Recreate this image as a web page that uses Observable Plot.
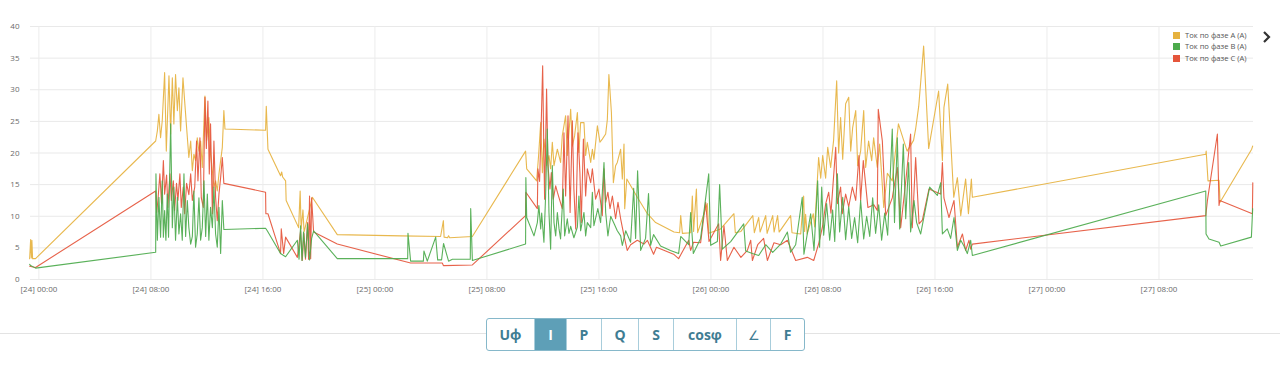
<!DOCTYPE html>
<html>
<head>
<meta charset="utf-8">
<script src="https://cdn.jsdelivr.net/npm/d3@7"></script>
<script src="https://cdn.jsdelivr.net/npm/@observablehq/plot@0.6"></script>
<style>
  html, body { margin: 0; padding: 0; background: #fff; width: 1280px; height: 365px; overflow: hidden; font-family: "Open Sans", sans-serif; }
  #wrap { position: relative; width: 1280px; height: 365px; }
  #chart { position: absolute; left: 0; top: 0; }
  #legend { position: absolute; left: 1173px; top: 30px; font-size: 7.6px; color: #555; line-height: 11.3px; }
  #legend .item { display: flex; align-items: center; white-space: nowrap; }
  #legend .sw { width: 7px; height: 7px; margin-right: 5px; display: inline-block; }
  #chev { position: absolute; left: 1261px; top: 30px; }
  #rule { position: absolute; left: 0; top: 333px; width: 1280px; height: 1px; background: #e3e3e3; }
  #btns { position: absolute; left: 486px; top: 318px; height: 31px; display: flex; border: 1px solid #86b8ca; border-radius: 3px; background: #fff; overflow: hidden; }
  #btns div { display: flex; align-items: center; justify-content: center; font-weight: 700; font-size: 14px; color: #3f7d93; border-left: 1px solid #a8cddb; box-sizing: border-box; }
  #btns div:first-child { border-left: none; }
  #btns div.active { background: #5e9fb7; color: #fff; }
  #btns div.thin { font-weight: 400; font-size: 13px; }
</style>
</head>
<body>
<div id="wrap">
  <div id="chart"></div>
  <div id="legend"></div>
  <svg id="chev" width="12" height="14"><polyline points="3,2 8,7 3,12" fill="none" stroke="#333" stroke-width="2.2"/></svg>
  <div id="rule"></div>
  <div id="btns"></div>
</div>
<script>
// ---- data: hours from [24] 00:00, current in A ----
const seriesNames = ["Ток по фазе A (A)", "Ток по фазе B (A)", "Ток по фазе C (A)"];
const seriesColors = ["#e6b23f", "#4caa4c", "#e5553b"];
const yTicks = [0, 5, 10, 15, 20, 25, 30, 35, 40];
const tickHours = [0, 8, 16, 24, 32, 40, 48, 56, 64, 72, 80];
const buttonLabels = ["Uф", "I", "P", "Q", "S", "cosφ", "∠", "F"];
const buttonWidths = [47, 32, 35, 37, 35, 63, 34, 34];

const hoursA = [-0.66,-0.59,-0.54,-0.5,-0.45,-0.24,8.34,8.46,8.57,8.69,8.81,8.98,9.1,9.29,9.41,9.53,9.64,9.76,9.89,10.0,10.12,10.29,10.41,10.55,10.71,10.84,10.96,11.07,11.19,11.31,11.43,11.55,11.67,11.79,11.86,11.98,12.14,12.26,12.39,12.5,12.62,12.74,12.86,12.98,13.1,13.21,13.29,
16.19,16.24,16.36,17.26,17.34,17.41,17.62,17.66,18.55,18.66,18.73,18.86,18.94,19.53,21.31,25.84,28.69,28.89,28.94,29.19,29.26,29.34,30.96,34.76,34.84,35.55,
35.69,35.84,35.96,36.07,36.26,36.43,36.55,36.67,36.79,37.03,37.26,37.38,37.62,37.74,37.98,38.1,38.26,38.46,38.57,38.69,38.93,39.05,39.17,39.41,39.53,39.64,39.89,40.07,40.24,40.48,40.6,40.71,40.89,41.03,41.19,41.31,41.55,41.67,41.79,41.84,41.99,42.74,43.46,44.05,45.36,
45.76,45.84,45.96,46.55,46.67,46.76,46.96,47.05,47.74,47.84,48.69,49.64,49.74,50.14,50.99,51.1,51.41,51.51,51.91,52.01,52.41,52.51,52.76,52.87,53.69,53.79,54.41,54.62,54.69,54.76,54.87,55.31,55.41,
55.69,55.84,55.98,56.19,56.34,56.55,56.76,56.98,57.12,57.26,57.41,57.62,57.84,57.98,58.12,58.34,58.48,58.69,58.91,59.05,59.26,59.48,59.62,59.88,60.05,60.34,60.6,60.95,61.39,62.01,62.47,62.62,62.84,63.19,63.55,64.26,64.53,64.64,64.91,65.34,65.6,65.84,66.19,66.39,66.6,66.67,
83.34,83.37,83.5,84.29,84.36,86.62,86.69];
const ampsA = [3.3,6.3,3.4,6.2,3.3,3.3,21.9,23.5,26.1,22.4,25.1,32.7,20.3,32.2,23.0,31.9,24.6,32.4,26.7,30.3,23.5,31.9,28.2,24.0,19.3,21.9,17.2,19.8,18.8,22.4,20.3,21.9,17.7,25.1,29.0,22.0,25.6,19.8,17.2,14.6,15.6,14.0,16.7,18.8,20.9,26.7,23.8,
23.6,27.4,20.6,16.4,17.0,16.2,15.6,12.5,8.2,14.0,8.0,11.0,7.5,13.0,7.1,6.9,6.8,9.3,6.7,6.6,6.9,6.6,6.8,20.3,17.5,15.6,
19.6,24.8,16.9,22.2,18.0,19.6,17.5,21.7,18.0,20.6,18.5,22.7,25.9,19.6,26.9,21.1,22.7,26.4,20.1,24.8,24.8,19.6,21.7,18.5,20.6,19.0,24.3,21.7,22.2,23.0,25.3,32.4,26.4,15.3,18.0,18.5,20.6,15.9,21.4,11.2,15.9,13.0,10.4,9.0,7.5,
7.4,10.1,7.3,7.4,13.2,7.6,14.3,7.4,12.0,7.3,8.0,10.4,7.4,7.6,10.1,7.4,9.8,7.5,10.1,7.3,10.1,7.5,10.1,7.5,10.1,7.4,7.2,13.2,7.6,10.3,7.2,10.4,8.3,
19.3,16.0,19.6,16.0,20.9,17.7,22.0,31.4,20.0,25.6,19.0,27.8,28.8,20.3,24.0,26.7,18.0,20.3,26.7,17.7,21.9,18.8,22.4,17.7,21.4,11.4,16.8,15.6,24.6,20.3,22.0,23.8,27.4,36.9,20.7,29.8,18.8,27.2,30.9,13.0,16.1,10.1,15.9,10.4,15.9,13.0,
19.8,20.3,15.6,15.7,12.2,20.6,21.1];

const hoursB = [-0.66,-0.59,-0.24,8.34,8.36,8.46,8.57,8.69,8.81,8.89,8.98,9.07,9.17,9.26,9.41,9.53,9.64,9.76,9.89,10.0,10.12,10.24,10.36,10.48,10.6,10.71,10.84,10.96,11.07,11.19,11.31,11.43,11.55,11.67,11.79,11.91,12.03,12.14,12.26,12.39,12.5,12.62,12.74,12.86,12.98,13.1,13.21,
16.19,16.31,17.26,17.62,18.46,18.58,18.69,18.79,18.9,19.04,19.19,19.33,19.48,19.62,21.31,26.34,26.36,26.55,27.46,27.5,27.74,28.34,28.48,28.76,28.9,29.26,29.53,30.81,30.84,30.96,34.76,34.78,34.84,35.36,
35.6,35.71,35.84,35.91,36.07,36.19,36.31,36.43,36.55,36.67,36.79,36.91,37.03,37.15,37.26,37.45,37.55,37.74,37.86,37.98,38.21,38.46,38.57,38.69,38.93,39.05,39.17,39.41,39.53,39.64,39.92,40.12,40.36,40.48,40.64,40.84,41.07,41.31,41.55,41.67,41.91,
42.26,42.48,42.62,42.76,42.98,43.33,43.54,43.69,43.9,44.4,45.11,45.69,45.84,46.41,46.55,46.74,47.26,47.84,47.98,48.46,48.62,48.81,49.41,50.34,50.48,50.96,51.41,51.91,52.41,52.98,53.46,53.69,54.05,54.52,54.64,55.12,55.36,
55.62,55.76,55.91,56.05,56.26,56.48,56.69,56.84,57.03,57.19,57.41,57.62,57.84,58.05,58.26,58.48,58.69,58.91,59.12,59.34,59.55,59.76,59.98,60.19,60.41,60.62,60.95,61.11,61.31,61.48,61.74,61.91,62.12,62.26,62.5,62.69,62.98,63.62,64.17,64.41,64.53,64.88,65.12,65.36,65.6,65.84,66.07,66.31,66.55,66.67,
83.34,83.36,83.57,84.29,84.41,86.6,86.69];
const ampsB = [2.4,2.2,1.8,4.3,16.7,6.2,13.0,6.7,15.6,6.7,10.9,6.2,13.5,6.7,24.6,8.2,14.6,6.2,13.0,7.2,10.4,6.2,16.7,6.8,12.5,8.2,5.6,6.8,14.0,5.1,7.2,12.9,6.2,8.2,15.6,6.8,13.5,6.2,11.4,8.2,14.6,7.2,5.1,11.4,4.1,12.5,7.9,
8.1,7.7,4.1,3.6,6.2,3.2,8.5,3.0,7.5,3.5,8.8,3.1,6.5,7.7,3.3,3.3,7.3,2.9,2.9,4.5,2.9,6.7,3.1,3.1,5.7,2.9,3.2,3.2,11.2,3.0,5.6,16.1,9.8,6.9,
9.0,11.7,8.0,10.5,5.9,13.2,23.8,10.6,4.8,18.0,9.0,6.9,10.6,8.0,6.4,14.3,6.9,9.6,7.3,8.4,6.6,8.3,13.2,7.7,10.6,6.9,9.0,8.2,13.8,8.5,11.2,9.0,18.5,10.6,6.9,10.0,8.9,7.7,6.9,5.4,7.7,
5.9,14.4,6.5,17.2,4.6,6.5,13.6,5.4,7.1,5.3,4.6,4.1,6.8,5.5,10.6,4.1,6.5,16.7,5.4,6.0,15.0,4.8,6.0,8.8,4.5,4.1,3.8,5.5,4.3,5.6,7.5,4.3,5.5,13.0,4.0,10.4,4.6,
15.6,5.1,14.6,7.0,12.0,6.2,11.0,6.0,16.7,7.5,13.0,6.3,11.5,6.5,9.8,5.8,12.5,6.4,10.0,6.8,12.9,7.3,11.8,6.2,10.5,7.0,23.8,9.0,22.4,8.0,21.4,9.6,18.5,7.5,12.5,9.0,7.2,14.6,13.3,15.3,7.2,8.0,6.5,9.8,4.6,6.2,5.3,4.1,6.2,3.8,
14.0,7.2,6.4,5.9,5.3,6.7,11.2];

const hoursC = [-0.66,-0.24,8.34,8.41,8.5,8.64,8.76,8.89,8.98,9.12,9.21,9.36,9.46,9.6,9.69,9.83,9.93,10.07,10.17,10.31,10.41,10.55,10.71,10.84,10.96,11.13,11.26,11.36,11.5,11.6,11.74,11.86,11.96,12.07,12.17,12.26,12.39,12.5,12.62,12.74,12.86,12.98,13.1,13.21,
16.19,16.21,16.36,17.26,17.31,17.48,17.62,18.46,18.69,18.81,18.93,19.04,19.19,19.26,19.33,19.41,19.48,19.62,21.31,26.55,28.81,28.89,30.96,34.76,34.78,
35.6,35.64,35.76,35.88,35.98,36.07,36.12,36.26,36.36,36.5,36.6,36.74,36.91,37.03,37.38,37.5,37.62,37.79,37.94,38.1,38.21,38.34,38.5,38.64,38.74,38.89,39.05,39.17,39.41,39.53,39.76,40.0,40.24,40.36,40.48,40.64,40.79,40.96,41.19,41.36,41.55,41.79,42.02,
42.26,42.74,43.21,43.46,43.9,44.11,45.33,45.69,46.41,46.55,46.76,47.26,47.62,47.86,48.55,48.69,48.93,49.17,49.64,50.14,50.6,50.84,50.96,51.34,51.76,52.03,52.5,52.98,53.46,54.05,54.88,55.34,
55.71,55.98,56.19,56.41,56.57,56.91,57.03,57.26,57.38,57.62,57.84,58.1,58.34,58.57,58.69,58.88,59.21,59.64,59.88,59.95,60.24,60.48,60.95,61.31,61.55,61.91,62.26,62.38,62.62,62.86,63.1,63.57,64.41,64.53,64.64,65.0,65.36,65.6,65.96,66.19,66.43,66.55,66.67,
83.34,83.46,84.17,84.29,84.34,86.67,86.7];
const ampsC = [2.1,1.9,14.0,10.6,12.5,16.7,12.0,18.8,13.5,16.5,11.4,16.7,12.5,15.6,10.9,15.2,12.5,16.7,11.4,14.6,10.4,15.2,13.4,16.7,12.5,14.6,21.9,15.6,22.4,12.9,11.4,28.8,20.7,28.2,16.7,24.6,10.4,21.9,13.0,9.3,13.5,16.1,19.3,15.2,
13.8,10.4,10.4,4.1,8.0,4.1,6.7,3.5,7.7,3.0,7.3,3.2,9.0,3.2,13.2,3.3,12.9,7.5,5.6,2.6,2.6,2.2,2.3,10.1,13.8,
11.2,17.5,15.5,24.8,33.8,19.6,12.7,30.1,18.0,14.3,16.9,12.7,14.8,13.8,11.2,23.2,13.2,25.9,10.6,25.1,14.3,8.0,23.2,16.9,9.0,22.2,13.2,17.5,15.3,17.5,12.7,14.3,10.1,17.5,12.2,13.8,11.2,13.2,9.6,12.2,9.6,6.9,4.6,
5.5,6.2,5.6,6.2,4.0,5.1,4.0,3.3,6.2,4.6,5.9,5.8,12.2,6.0,8.8,3.0,8.5,3.0,5.1,3.5,4.6,6.2,3.0,5.5,6.5,3.0,5.8,5.5,6.2,3.0,3.5,3.0,
5.8,8.5,11.9,13.8,10.5,20.9,12.0,14.6,10.4,13.5,11.5,14.6,12.5,19.6,12.5,18.8,11.4,11.8,10.9,26.9,21.9,10.1,12.9,17.7,8.2,15.5,23.0,8.2,19.3,8.8,9.4,14.3,13.5,18.5,12.9,9.8,12.5,5.1,7.2,4.6,6.2,4.8,5.6,
10.1,12.5,23.0,11.7,12.5,10.4,15.3];

// ---- build ----
const base = Date.UTC(2024, 0, 24);
const toDate = h => new Date(base + h * 3600000);
const rows = [];
[[hoursA, ampsA], [hoursB, ampsB], [hoursC, ampsC]].forEach(([hs, vs], i) => {
  hs.forEach((h, j) => rows.push({ t: toDate(h), v: vs[j], s: seriesNames[i] }));
});
const tickDates = tickHours.map(toDate);
const fmt = d3.utcFormat("[%d] %H:%M");
const drawOrder = [seriesNames[0], seriesNames[2], seriesNames[1]];

const chart = Plot.plot({
  width: 1280,
  height: 300,
  marginLeft: 30,
  marginRight: 27,
  marginTop: 26,
  marginBottom: 21,
  style: { fontFamily: "'Open Sans', sans-serif", fontSize: "8px", color: "#6a6a6a", background: "transparent", overflow: "visible" },
  x: { type: "utc", domain: [toDate(-0.6), toDate(86.75)], ticks: tickDates, tickFormat: fmt, tickSize: 0, tickPadding: 7, label: null },
  y: { domain: [0, 40], ticks: yTicks, tickSize: 0, tickPadding: 11, label: null },
  color: { domain: seriesNames, range: seriesColors },
  marks: [
    Plot.gridY(yTicks, { stroke: "#e9e9e9", strokeOpacity: 1 }),
    Plot.gridX(tickDates, { stroke: "#ececec", strokeOpacity: 1 }),
    ...drawOrder.map(name => Plot.line(rows.filter(r => r.s === name), {
      x: "t", y: "v", stroke: "s", strokeWidth: 1.1, strokeOpacity: 0.92, curve: "linear"
    }))
  ]
});
document.getElementById("chart").appendChild(chart);

// legend
const leg = document.getElementById("legend");
seriesNames.forEach((n, i) => {
  const it = document.createElement("div");
  it.className = "item";
  it.innerHTML = `<span class="sw" style="background:${seriesColors[i]}"></span><span>${n}</span>`;
  leg.appendChild(it);
});

// buttons
const btns = document.getElementById("btns");
buttonLabels.forEach((b, i) => {
  const d = document.createElement("div");
  d.textContent = b;
  d.style.width = buttonWidths[i] + "px";
  if (b === "I") d.className = "active";
  if (b === "∠") d.className = "thin";
  btns.appendChild(d);
});
</script>
</body>
</html>
